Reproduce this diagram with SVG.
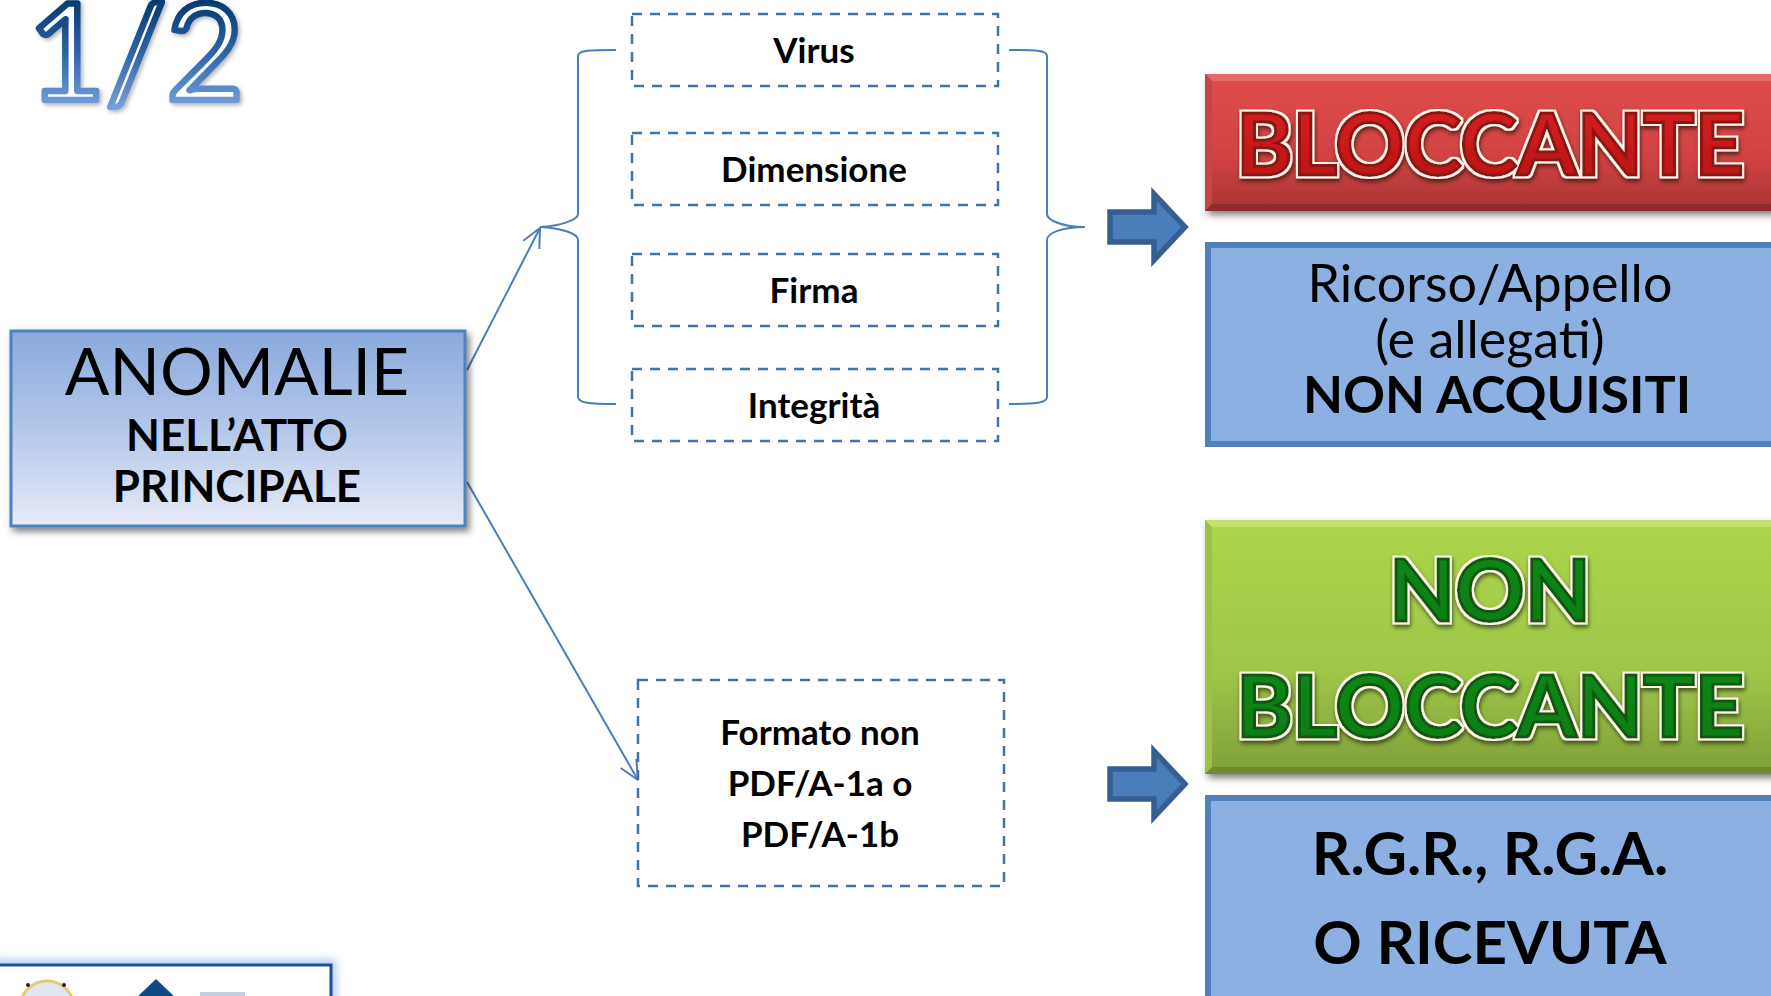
<svg xmlns="http://www.w3.org/2000/svg" width="1771" height="996" viewBox="0 0 1771 996">
<style>
text{font-family:Lato,"Open Sans","Liberation Sans",sans-serif;text-anchor:middle;fill:#000}
.b{font-weight:700}
.dash{fill:#fff;stroke:#3f74a8;stroke-width:2.5;stroke-dasharray:10 8}
.lab{font-size:35px;font-weight:700}
.line{fill:none;stroke:#4a7ebb;stroke-width:2}
.blue{fill:#8db0e2;stroke:#4f81bd;stroke-width:6}
.blk{fill:#4a7ebb;stroke:#355f91;stroke-width:5.5}
.big{font-size:86px;font-weight:700}
.red{fill:url(#rt);stroke:#8a1212;stroke-width:3;filter:url(#wo)}
.grn{fill:url(#gt);stroke:#0d5a10;stroke-width:3;filter:url(#wo)}
.bl{font-size:52px}
</style>
<defs>
<linearGradient id="frac" gradientUnits="userSpaceOnUse" x1="0" y1="0" x2="0" y2="122"><stop offset="0" stop-color="#04396f"/><stop offset=".45" stop-color="#2f66a8"/><stop offset="1" stop-color="#8ab0ec"/></linearGradient>
<linearGradient id="an" x1="0" y1="0" x2="0" y2="1"><stop offset="0" stop-color="#8aa9dd"/><stop offset=".5" stop-color="#b4c7ea"/><stop offset="1" stop-color="#e6ebf7"/></linearGradient>
<linearGradient id="rb" x1="0" y1="0" x2="0" y2="1"><stop offset="0" stop-color="#e04b4b"/><stop offset=".6" stop-color="#d24343"/><stop offset="1" stop-color="#a83434"/></linearGradient>
<linearGradient id="gb" x1="0" y1="0" x2="0" y2="1"><stop offset="0" stop-color="#acd64c"/><stop offset=".6" stop-color="#9fc648"/><stop offset="1" stop-color="#7f9f3a"/></linearGradient>
<linearGradient id="rt" x1="0" y1="0" x2="0" y2="1"><stop offset="0" stop-color="#d92020"/><stop offset="1" stop-color="#b81414"/></linearGradient>
<linearGradient id="gt" x1="0" y1="0" x2="0" y2="1"><stop offset="0" stop-color="#0f8a18"/><stop offset="1" stop-color="#0b7a14"/></linearGradient>
<filter id="sh" x="-5%" y="-10%" width="112%" height="125%"><feDropShadow dx="3" dy="4" stdDeviation="3.5" flood-color="#000" flood-opacity=".5"/></filter>
<filter id="sh2" x="-10%" y="-20%" width="120%" height="140%"><feDropShadow dx="2" dy="2" stdDeviation="2" flood-color="#000" flood-opacity=".3"/></filter>
<filter id="wo" x="-5%" y="-15%" width="110%" height="135%"><feMorphology in="SourceAlpha" operator="dilate" radius="2.2" result="d"/><feFlood flood-color="#fff6ea"/><feComposite in2="d" operator="in" result="w"/><feGaussianBlur in="d" stdDeviation="2" result="b"/><feOffset in="b" dx="1" dy="3" result="o"/><feFlood flood-color="#000" flood-opacity=".55"/><feComposite in2="o" operator="in" result="s"/><feMerge><feMergeNode in="s"/><feMergeNode in="w"/><feMergeNode in="SourceGraphic"/></feMerge></filter>
<filter id="glow" x="-10%" y="-50%" width="120%" height="200%"><feGaussianBlur stdDeviation="5"/></filter>
<marker id="open" markerUnits="userSpaceOnUse" markerWidth="24" markerHeight="24" refX="20" refY="10" orient="auto"><path d="M1 1L20 10L1 19" fill="none" stroke="#4a7ebb" stroke-width="2"/></marker>
</defs>
<rect width="1771" height="996" fill="#fff"/>

<g id="counter"><text x="136" y="100" font-size="134" font-weight="400" fill="#fff" style="fill:#fff;stroke:url(#frac);stroke-width:6.5;stroke-linejoin:round;filter:url(#sh2)">1/2</text></g>

<g id="connectors">
<path class="line" d="M467 370L540 228" marker-end="url(#open)"/>
<path class="line" d="M467 482L638 780" marker-end="url(#open)"/>
<path class="line" d="M616 50C590 50 578 50 578 56V214C578 220 560 226 540 227C560 228 578 233 578 240V397C578 403 590 404 616 404"/>
<path class="line" d="M1009 50C1035 50 1047 50 1047 56V214C1047 220 1062 227 1085 227C1062 227 1047 233 1047 240V397C1047 403 1035 404 1009 404"/>
</g>

<g id="anomalie">
<rect x="11" y="331" width="454" height="195" fill="url(#an)" stroke="#4f81bd" stroke-width="3" filter="url(#sh)"/>
<text x="237" y="395" font-size="66">ANOMALIE</text>
<text x="237" y="451" class="b" font-size="44">NELL’ATTO</text>
<text x="237" y="502" class="b" font-size="44">PRINCIPALE</text>
</g>

<g id="virus"><rect class="dash" x="632" y="14" width="366" height="72"/><text class="lab" x="814" y="63">Virus</text></g>
<g id="dimensione"><rect class="dash" x="632" y="133" width="366" height="72"/><text class="lab" x="814" y="182">Dimensione</text></g>
<g id="firma"><rect class="dash" x="632" y="254" width="366" height="72"/><text class="lab" x="814" y="303">Firma</text></g>
<g id="integrita"><rect class="dash" x="632" y="369" width="366" height="72"/><text class="lab" x="814" y="418">Integrità</text></g>
<g id="formato"><rect class="dash" x="638" y="680" width="366" height="206"/>
<text class="lab" x="820" y="745">Formato non</text><text class="lab" x="820" y="796">PDF/A-1a o</text><text class="lab" x="820" y="847">PDF/A-1b</text></g>

<g id="arrow1"><path class="blk" d="M1110 212H1154V194L1185 227L1154 260V242H1110Z"/></g>
<g id="arrow2"><path class="blk" d="M1110 769H1154V751L1185 784L1154 817V799H1110Z"/></g>

<g id="bloccante">
<rect x="1205" y="74" width="580" height="137" fill="url(#rb)" filter="url(#sh)"/>
<path d="M1205 74H1790V81H1212Z" fill="#e46a6a"/><path d="M1205 74L1212 81V204L1205 211Z" fill="#c94444"/><path d="M1205 211L1212 204H1790V211Z" fill="#922c2c"/>
<text class="big red" x="1490" y="175">BLOCCANTE</text>
</g>
<g id="ricorso">
<rect class="blue" x="1208" y="245" width="580" height="199"/>
<text x="1490" y="302" class="bl">Ricorso/Appello</text>
<text x="1490" y="358" class="bl">(e allegati)</text>
<text x="1497" y="413" class="bl b">NON ACQUISITI</text>
</g>
<g id="non-bloccante">
<rect x="1205" y="520" width="580" height="254" fill="url(#gb)" filter="url(#sh)"/>
<path d="M1205 520H1790V527H1212Z" fill="#c6e06e"/><path d="M1205 520L1212 527V767L1205 774Z" fill="#9cc246"/><path d="M1205 774L1212 767H1790V774Z" fill="#6f8b33"/>
<text class="big grn" x="1490" y="621">NON</text>
<text class="big grn" x="1490" y="737">BLOCCANTE</text>
</g>
<g id="rgr">
<rect class="blue" x="1208" y="798" width="580" height="210"/>
<text x="1490" y="875" class="b" font-size="60">R.G.R., R.G.A.</text>
<text x="1490" y="964" class="b" font-size="60">O RICEVUTA</text>
</g>

<g id="logo">
<rect x="-10" y="965" width="341" height="50" fill="none" stroke="#a6c8f5" stroke-width="10" filter="url(#glow)"/>
<rect x="-10" y="965" width="341" height="50" fill="#fff" stroke="#1f4f8f" stroke-width="3"/>
<circle cx="47" cy="1008" r="27" fill="#dfe8f2" stroke="#e3cc70" stroke-width="3"/>
<circle cx="28" cy="985" r="2" fill="#222"/><circle cx="64" cy="985" r="2" fill="#222"/>
<path d="M156 979L178 1000H134Z" fill="#0f4a85"/>
<path d="M200 996V992H245V996Z" fill="#c3cfdd"/>
</g>
</svg>
